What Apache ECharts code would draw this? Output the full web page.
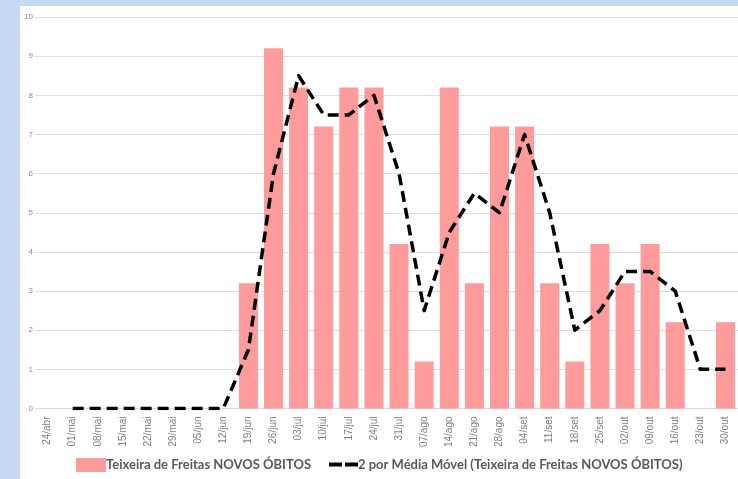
<!DOCTYPE html>
<html>
<head>
<meta charset="utf-8">
<script src="https://cdn.jsdelivr.net/npm/echarts@6/dist/echarts.min.js"></script>
<style>
html,body{margin:0;padding:0;background:#c6d9f1;}
#chart{width:738px;height:479px;}
</style>
</head>
<body>
<div id="chart"></div>
<script>
var categories = ['24/abr','01/mai','08/mai','15/mai','22/mai','29/mai','05/jun','12/jun','19/jun','26/jun','03/jul','10/jul','17/jul','24/jul','31/jul','07/ago','14/ago','21/ago','28/ago','04/set','11/set','18/set','25/set','02/out','09/out','16/out','23/out','30/out'];
var novosObitos = [0,0,0,0,0,0,0,0,3.2,9.2,8.2,7.2,8.2,8.2,4.2,1.2,8.2,3.2,7.2,7.2,3.2,1.2,4.2,3.2,4.2,2.2,0,2.2];
var mediaMovel = [null,0,0,0,0,0,0,0,1.5,6,8.5,7.5,7.5,8,6,2.5,4.5,5.5,5,7,5,2,2.5,3.5,3.5,3,1,1];
var yTicks = [0,1,2,3,4,5,6,7,8,9,10];
var seriesNames = ['Teixeira de Freitas NOVOS ÓBITOS','2 por Média Móvel (Teixeira de Freitas NOVOS ÓBITOS)'];

var legendText = {fontFamily: 'Lato', fontWeight: 'bold', fontSize: 13, color: '#595959', padding: [0,0,0,-5]};

var chart = echarts.init(document.getElementById('chart'), null, {renderer:'canvas'});
chart.setOption({
  backgroundColor: '#c6d9f1',
  animation: false,
  graphic: [{
    type: 'rect', z: -10, silent: true,
    shape: {x: 20, y: 6, width: 718, height: 473},
    style: {fill: '#ffffff'}
  }],
  grid: {left: 35, right: -2, top: 17, bottom: 70.5, containLabel: false},
  legend: [
    {
      left: 76, top: 458, padding: 0,
      itemWidth: 30, itemHeight: 14,
      textStyle: legendText,
      data: [{name: seriesNames[0], icon: 'rect'}]
    },
    {
      left: 329, top: 458, padding: 0,
      itemWidth: 29, itemHeight: 4,
      textStyle: legendText,
      data: [{name: seriesNames[1], icon: 'path://M0,0H13V4H0Z M16,0H29V4H16Z', itemStyle: {color: '#000000'}}]
    }
  ],
  xAxis: {
    type: 'category',
    data: categories,
    boundaryGap: true,
    axisLine: {show: true, lineStyle: {color: '#d9d9d9', width: 1}},
    axisTick: {show: false},
    axisLabel: {rotate: 90, interval: 0, margin: 8, fontSize: 10, color: '#7f7f7f', fontFamily: 'Liberation Sans'}
  },
  yAxis: {
    type: 'value',
    min: yTicks[0], max: yTicks[yTicks.length-1], interval: 1,
    axisLine: {show: false},
    axisTick: {show: false},
    splitLine: {lineStyle: {color: '#dedede', width: 1}},
    axisLabel: {margin: 2, fontSize: 8, color: '#8c8c8c', fontFamily: 'Liberation Sans'}
  },
  series: [
    {
      name: seriesNames[0],
      type: 'bar',
      data: novosObitos,
      barWidth: 19,
      itemStyle: {color: '#ff9b9b'}
    },
    {
      name: seriesNames[1],
      type: 'line',
      data: mediaMovel,
      symbol: 'none',
      smooth: false,
      connectNulls: false,
      itemStyle: {color: '#000000'},
      lineStyle: {color: '#000000', width: 3.5, type: [11, 6], cap: 'butt', join: 'round'}
    }
  ]
});
</script>
</body>
</html>
